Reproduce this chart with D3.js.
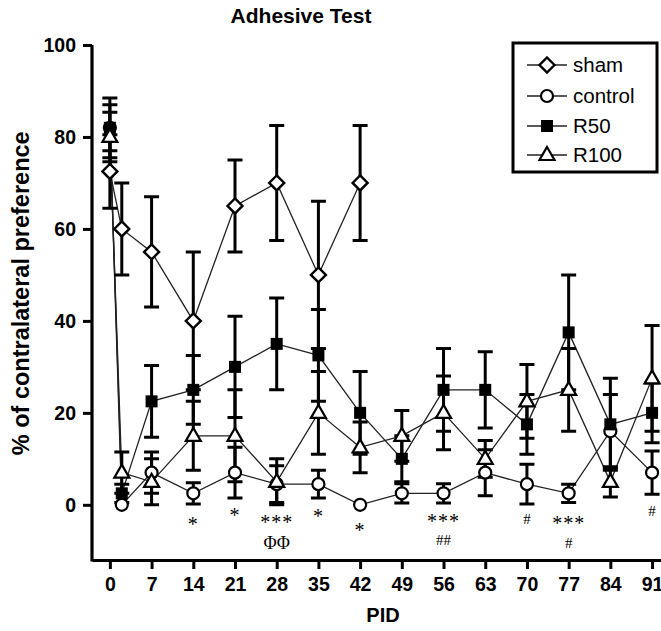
<!DOCTYPE html>
<html><head><meta charset="utf-8">
<script src="https://cdn.jsdelivr.net/npm/d3@7"></script>
<style>body{margin:0;background:#fff}svg{display:block}</style>
</head><body>
<svg id="c" width="661" height="631"></svg>
<script>
const days = [0, 2, 7, 14, 21, 28, 35, 42, 49, 56, 63, 70, 77, 84, 91];
const xTicks = [0, 7, 14, 21, 28, 35, 42, 49, 56, 63, 70, 77, 84, 91];
const yTicks = [0, 20, 40, 60, 80, 100];
const seriesNames = ["sham", "control", "R50", "R100"];
const shamVals = [72.5, 60, 55, 40, 65, 70, 50, 70];
const shamErr  = [8, 10, 12, 15, 10, 12.5, 16, 12.5];
const controlVals = [82, 0, 7, 2.5, 7, 4.5, 4.5, 0, 2.5, 2.5, 7, 4.5, 2.5, 16, 7];
const controlErr  = [6.5, 0, 4.5, 2.3, 5.5, 4, 3, 0, 2.1, 2.1, 5, 4.3, 2, 8, 4.7];
const r50Vals = [82, 2.5, 22.5, 25, 30, 35, 32.5, 20, 10, 25, 25, 17.5, 37.5, 17.5, 20];
const r50Err  = [5, 2, 7.8, 7.5, 11, 10, 10, 9, 5, 9, 8.3, 6.5, 12.5, 10, 6.5];
const r100Vals = [80, 7, 5, 15, 15, 5, 20, 12.5, 15, 20, 10, 22.5, 25, 5, 27.5];
const r100Err  = [5.4, 4.5, 5, 7.5, 10, 5, 9, 5.5, 5.5, 8, 4, 8, 9, 3.3, 11.5];
// significance annotations: [day, baseline value, text, kind]
const annotations = [
  [14, -5.8, "*", "star"], [21, -3.7, "*", "star"], [28, -5.2, "***", "star"],
  [28, -9.6, "ΦΦ", "phi"], [35, -3.9, "*", "star"], [42, -7.0, "*", "star"],
  [56, -5.1, "***", "star"], [56, -8.8, "##", "hash"], [70, -4.1, "#", "hash"],
  [77, -5.4, "***", "star"], [77, -9.3, "#", "hash"], [91, -2.4, "#", "hash"]
];

const svg = d3.select("#c");
const x = d3.scaleLinear().domain([-3, 92.5]).range([92, 661]);
const y = d3.scaleLinear().domain([-12, 100]).range([560, 45]);
const SANS = "Liberation Sans, Arial, sans-serif";

const series = [
  {name: "control", vals: controlVals, err: controlErr, sym: "circle"},
  {name: "sham", vals: shamVals, err: shamErr, sym: "diamond"},
  {name: "R50", vals: r50Vals, err: r50Err, sym: "square"},
  {name: "R100", vals: r100Vals, err: r100Err, sym: "triangle"}
].map(s => ({...s, pts: s.vals.map((v, i) => ({d: days[i], v, e: s.err[i]}))}));

// title
svg.append("text").attr("x", 301).attr("y", 23).attr("text-anchor", "middle")
  .attr("font-family", SANS).attr("font-weight", "bold")
  .attr("font-size", 21).text("Adhesive Test");

// axes
const yAxis = d3.axisLeft(y).tickValues(yTicks).tickSize(9).tickSizeOuter(0).tickPadding(7);
const xAxis = d3.axisBottom(x).tickValues(xTicks).tickSize(9).tickSizeOuter(0).tickPadding(8);
const gy = svg.append("g").attr("transform", "translate(92,0)").call(yAxis);
const gx = svg.append("g").attr("transform", "translate(0,560)").call(xAxis);
[gx, gy].forEach(g => {
  g.select(".domain").attr("stroke", "#000").attr("stroke-width", 3.2);
  g.selectAll(".tick line").attr("stroke", "#000").attr("stroke-width", 3);
  g.selectAll(".tick text").attr("font-family", SANS)
    .attr("font-weight", "bold").attr("font-size", 19.5).attr("fill", "#000");
});
gy.select(".domain").attr("d", `M0,${y(100)}V${y(-12) + 1.6}`);

svg.append("text").attr("x", 383).attr("y", 622).attr("text-anchor", "middle")
  .attr("font-family", SANS).attr("font-weight", "bold")
  .attr("font-size", 20).text("PID");
svg.append("text").attr("transform", `translate(29,${y(46)}) rotate(-90)`).attr("text-anchor", "middle")
  .attr("font-family", SANS).attr("font-weight", "bold")
  .attr("font-size", 23.5).text("% of contralateral preference");

// lines
const line = d3.line().x(p => x(p.d)).y(p => y(p.v));
series.forEach(s => {
  svg.append("path").attr("d", line(s.pts)).attr("fill", "none")
    .attr("stroke", "#222").attr("stroke-width", 1.3);
});
// error bars
const cw = 7.5;
series.forEach(s => {
  const g = svg.append("g").attr("stroke", "#000").attr("stroke-width", 3).attr("fill", "none");
  s.pts.filter(p => p.e > 0).forEach(p => {
    const cx = x(p.d), y1 = y(p.v + p.e), y0 = y(p.v - p.e);
    g.append("path").attr("d", `M${cx},${y1}V${y0}M${cx - cw},${y1}H${cx + cw}M${cx - cw},${y0}H${cx + cw}`);
  });
});
// markers
function marker(g, sym, cx, cy) {
  if (sym === "circle") {
    g.append("circle").attr("cx", cx).attr("cy", cy).attr("r", 6)
      .attr("fill", "#fff").attr("stroke", "#000").attr("stroke-width", 2.2);
  } else if (sym === "diamond") {
    g.append("path").attr("d", `M${cx},${cy - 7.5}L${cx + 7.5},${cy}L${cx},${cy + 7.5}L${cx - 7.5},${cy}Z`)
      .attr("fill", "#fff").attr("stroke", "#000").attr("stroke-width", 2.4);
  } else if (sym === "square") {
    g.append("rect").attr("x", cx - 6).attr("y", cy - 6).attr("width", 12).attr("height", 12)
      .attr("fill", "#000");
  } else {
    g.append("path").attr("d", `M${cx},${cy - 8}L${cx + 7.5},${cy + 5}L${cx - 7.5},${cy + 5}Z`)
      .attr("fill", "#fff").attr("stroke", "#000").attr("stroke-width", 2.2);
  }
}
series.forEach(s => {
  const g = svg.append("g");
  s.pts.forEach(p => marker(g, s.sym, x(p.d), y(p.v)));
});

// annotations
annotations.forEach(([d, v, t, k]) => {
  svg.append("text").attr("x", x(d)).attr("y", y(v)).attr("text-anchor", "middle")
    .attr("font-family", "Liberation Serif, Times New Roman, serif")
    .attr("font-size", k === "star" ? 20 : (k === "phi" ? 18 : 15))
    .attr("letter-spacing", k === "star" ? 1 : 0)
    .attr("fill", "#000").text(t);
});

// legend
const lg = svg.append("g");
lg.append("rect").attr("x", 513).attr("y", 43).attr("width", 144).attr("height", 129)
  .attr("fill", "#fff").attr("stroke", "#000").attr("stroke-width", 3);
const legendSym = {sham: "diamond", control: "circle", R50: "square", R100: "triangle"};
const ly = [65, 96, 126, 155];
seriesNames.forEach((n, i) => {
  lg.append("line").attr("x1", 527).attr("x2", 567).attr("y1", ly[i]).attr("y2", ly[i])
    .attr("stroke", "#222").attr("stroke-width", 1.3);
  marker(lg, legendSym[n], 547, ly[i]);
  lg.append("text").attr("x", 573).attr("y", ly[i] + 7).attr("font-family", SANS)
    .attr("font-size", 20.5).attr("fill", "#000").text(n);
});
</script>
</body></html>
